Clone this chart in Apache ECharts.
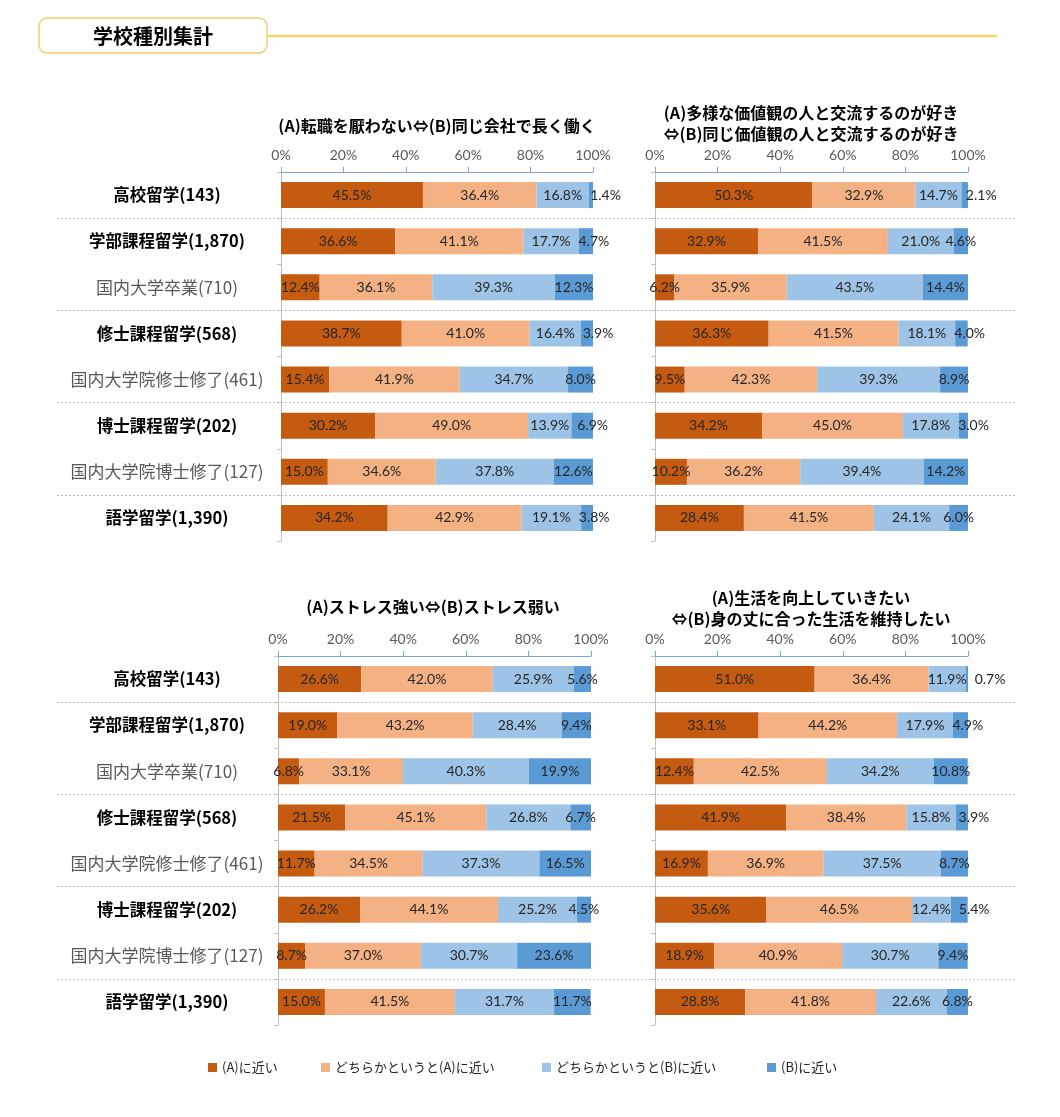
<!DOCTYPE html>
<html><head><meta charset="utf-8">
<script src="https://cdn.jsdelivr.net/npm/echarts@6/dist/echarts.min.js"></script>
<style>html,body{margin:0;padding:0;background:#fff}#c{width:1060px;height:1117px}</style>
</head><body><div id="c"></div>
<script>
// ---------- data ----------
const categories = ['高校留学(143)','学部課程留学(1,870)','国内大学卒業(710)','修士課程留学(568)','国内大学院修士修了(461)','博士課程留学(202)','国内大学院博士修了(127)','語学留学(1,390)'];
const seriesNames = ['(A)に近い','どちらかというと(A)に近い','どちらかというと(B)に近い','(B)に近い'];
const pageTitle = '学校種別集計';
const panelTitles = [
  '(A)転職を厭わない⇔(B)同じ会社で長く働く',
  '(A)多様な価値観の人と交流するのが好き\n⇔(B)同じ価値観の人と交流するのが好き',
  '(A)ストレス強い⇔(B)ストレス弱い',
  '(A)生活を向上していきたい\n⇔(B)身の丈に合った生活を維持したい'
];

const tenshoku_A  = [45.5, 36.6, 12.4, 38.7, 15.4, 30.2, 15.0, 34.2];
const tenshoku_a  = [36.4, 41.1, 36.1, 41.0, 41.9, 49.0, 34.6, 42.9];
const tenshoku_b  = [16.8, 17.7, 39.3, 16.4, 34.7, 13.9, 37.8, 19.1];
const tenshoku_B  = [1.4, 4.7, 12.3, 3.9, 8.0, 6.9, 12.6, 3.8];

const tayou_A  = [50.3, 32.9, 6.2, 36.3, 9.5, 34.2, 10.2, 28.4];
const tayou_a  = [32.9, 41.5, 35.9, 41.5, 42.3, 45.0, 36.2, 41.5];
const tayou_b  = [14.7, 21.0, 43.5, 18.1, 39.3, 17.8, 39.4, 24.1];
const tayou_B  = [2.1, 4.6, 14.4, 4.0, 8.9, 3.0, 14.2, 6.0];

const stress_A  = [26.6, 19.0, 6.8, 21.5, 11.7, 26.2, 8.7, 15.0];
const stress_a  = [42.0, 43.2, 33.1, 45.1, 34.5, 44.1, 37.0, 41.5];
const stress_b  = [25.9, 28.4, 40.3, 26.8, 37.3, 25.2, 30.7, 31.7];
const stress_B  = [5.6, 9.4, 19.9, 6.7, 16.5, 4.5, 23.6, 11.7];

const seikatsu_A  = [51.0, 33.1, 12.4, 41.9, 16.9, 35.6, 18.9, 28.8];
const seikatsu_a  = [36.4, 44.2, 42.5, 38.4, 36.9, 46.5, 40.9, 41.8];
const seikatsu_b  = [11.9, 17.9, 34.2, 15.8, 37.5, 12.4, 30.7, 22.6];
const seikatsu_B  = [0.7, 4.9, 10.8, 3.9, 8.7, 5.4, 9.4, 6.8];

const panelData = [
  [tenshoku_A, tenshoku_a, tenshoku_b, tenshoku_B],
  [tayou_A, tayou_a, tayou_b, tayou_B],
  [stress_A, stress_a, stress_b, stress_B],
  [seikatsu_A, seikatsu_a, seikatsu_b, seikatsu_B]
];

// ---------- layout & style ----------
const colors = ['#c55a11', '#f4b183', '#9dc3e6', '#5b9bd5'];
const panels = [
  {left: 281, top: 172, width: 312, cx: 437, ty: 126},
  {left: 655, top: 172, width: 313, cx: 811, ty: 123.5},
  {left: 278, top: 656, width: 313, cx: 433, ty: 607},
  {left: 655, top: 656, width: 313, cx: 811, ty: 608.5}
];
const PH = 369;
const labelCenterX = 167;
const LABEL_FONT = '14px Lato';
const JP = '"Noto Sans CJK JP"';
const legendX = [203, 316, 537, 762];

const mctx = document.createElement('canvas').getContext('2d');
function textW(t) { mctx.font = LABEL_FONT; return mctx.measureText(t).width; }
function fmt(v) { return v.toFixed(1) + '%'; }

function lastLayout(pi) {
  const vals = panelData[pi], P = panels[pi];
  return function (p) {
    const i = p.dataIndex;
    const pxPer = P.width / 100;
    const prevCenter = P.left + (vals[0][i] + vals[1][i] + vals[2][i] / 2) * pxPer;
    const prevRight = prevCenter + textW(fmt(vals[2][i])) / 2;
    if (p.labelRect.x < prevRight + 2) return {dx: prevRight + 8 - p.labelRect.x};
    return {};
  };
}

const grid = [], xAxis = [], yAxis = [], series = [];
panels.forEach((P, pi) => {
  grid.push({left: P.left, top: P.top, width: P.width, height: PH});
  xAxis.push({
    gridIndex: pi, type: 'value', position: 'top', min: 0, max: 100, interval: 20,
    axisLine: {show: true, lineStyle: {color: '#7aa6d9', width: 1}},
    axisTick: {show: true, length: 5, lineStyle: {color: '#7aa6d9'}},
    axisLabel: {formatter: '{value}%', color: '#595959', fontFamily: 'Lato', fontSize: 14, margin: 10},
    splitLine: {show: false}
  });
  const isLeft = (pi % 2 === 0);
  yAxis.push({
    gridIndex: pi, type: 'category', inverse: true, data: categories,
    axisLine: {show: true, lineStyle: {color: '#bfbfbf'}},
    axisTick: {show: true, length: 4, lineStyle: {color: '#bfbfbf'}},
    axisLabel: isLeft ? {
      show: true, align: 'center', margin: P.left - labelCenterX,
      formatter: v => v.indexOf('国内') === 0 ? '{n|' + v + '}' : '{b|' + v + '}',
      rich: {
        b: {fontFamily: JP, fontWeight: 'bold', fontSize: 16.5, color: '#000'},
        n: {fontFamily: JP, fontWeight: 'normal', fontSize: 17, color: '#595959'}
      }
    } : {show: false},
    splitLine: {show: false}
  });
  panelData[pi].forEach((vals, k) => {
    const s = {
      type: 'bar', name: seriesNames[k], xAxisIndex: pi, yAxisIndex: pi, stack: 'p' + pi,
      data: vals, barWidth: 26, itemStyle: {color: colors[k]},
      label: {show: true, position: 'inside', formatter: p => fmt(p.value),
        color: '#262626', fontFamily: 'Lato', fontSize: 14},
      emphasis: {disabled: true}
    };
    if (k === 3) s.labelLayout = lastLayout(pi);
    series.push(s);
  });
});
// separator grids (dotted lines between groups); cover the first 7 bands so the
// closing boundary line lands between the 7th and 8th group
const sepCats = categories.slice(0, categories.length - 1);
[172, 656].forEach((top, j) => {
  const gi = 4 + j;
  grid.push({left: 57, top: top, width: 958, height: PH * sepCats.length / categories.length});
  xAxis.push({gridIndex: gi, type: 'value', show: false, min: 0, max: 1});
  yAxis.push({
    gridIndex: gi, type: 'category', inverse: true, data: sepCats,
    axisLine: {show: false}, axisTick: {show: false}, axisLabel: {show: false},
    splitLine: {show: true, interval: (i) => i % 2 === 1, lineStyle: {type: [2, 2], color: '#bfbfbf', width: 1}}
  });
});

const legend = seriesNames.map((n, k) => ({
  data: [n], left: legendX[k], top: 1056, icon: 'rect', itemWidth: 9, itemHeight: 9,
  selectedMode: false, textStyle: {fontFamily: JP, fontSize: 13, color: '#262626'}
}));

const graphic = [
  {type: 'rect', shape: {x: 39, y: 18, width: 228, height: 35, r: 8}, style: {fill: '#fff', stroke: '#f7d88a', lineWidth: 2}},
  {type: 'text', x: 153, y: 36, style: {text: pageTitle, font: 'bold 20px ' + JP, fill: '#000', align: 'center', verticalAlign: 'middle', textAlign: 'center', textVerticalAlign: 'middle'}},
  {type: 'line', shape: {x1: 268, y1: 36, x2: 997, y2: 36}, style: {stroke: '#f5d36b', lineWidth: 2.5}}
];
panels.forEach((P, pi) => {
  graphic.push({type: 'text', x: P.cx, y: P.ty, style: {text: panelTitles[pi], font: 'bold 16px ' + JP, lineHeight: 21, fill: '#000', align: 'center', verticalAlign: 'middle', textAlign: 'center', textVerticalAlign: 'middle'}});
});

const chart = echarts.init(document.getElementById('c'), null, {renderer: 'canvas'});
chart.setOption({
  animation: false, backgroundColor: '#fff',
  grid, xAxis, yAxis, series, legend, graphic
});
</script></body></html>
